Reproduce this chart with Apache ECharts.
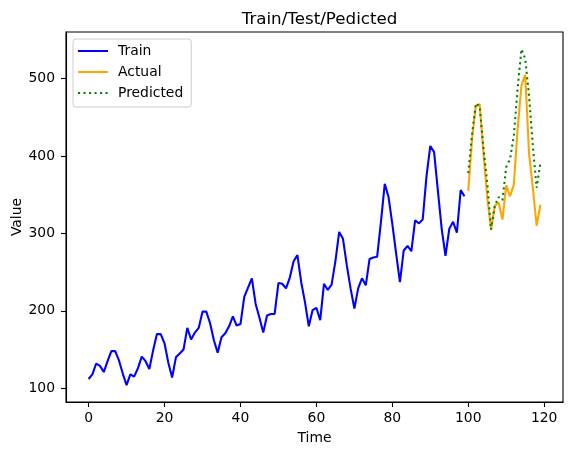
<!DOCTYPE html>
<html>
<head>
<meta charset="utf-8">
<script src="https://cdn.jsdelivr.net/npm/echarts@6/dist/echarts.min.js"></script>
<style>
  html, body { margin: 0; padding: 0; background: #fff; }
  #chart { width: 571px; height: 455px; }
</style>
</head>
<body>
<div id="chart"></div>
<script>
const trainValues = [
  112, 118, 132, 129, 121, 135, 148, 148, 136, 119, 104, 118,
  115, 126, 141, 135, 125, 149, 170, 170, 158, 133, 114, 140,
  145, 150, 178, 163, 172, 178, 199, 199, 184, 162, 146, 166,
  171, 180, 193, 181, 183, 218, 230, 242, 209, 191, 172, 194,
  196, 196, 236, 235, 229, 243, 264, 272, 237, 211, 180, 201,
  204, 188, 235, 227, 234, 264, 302, 293, 259, 229, 203, 229,
  242, 233, 267, 269, 270, 315, 364, 347, 312, 274, 237, 278,
  284, 277, 317, 313, 318, 374, 413, 405, 355, 306, 271, 306,
  315, 301, 356, 348
];
const actualValues = [
  355, 422, 465, 467, 404, 347, 305, 336, 340, 318,
  362, 348, 363, 435, 491, 505, 404, 359, 310, 337
];
const predictedValues = [
  378, 428, 468, 464, 410, 365, 305, 336, 347, 343,
  386, 396, 426, 487, 538, 526, 478, 413, 359, 391
];
const xTicks = [0, 20, 40, 60, 80, 100, 120];
const yTicks = [100, 200, 300, 400, 500];

const testStart = trainValues.length;
const trainData = trainValues.map((v, i) => [i, v]);
const actualData = actualValues.map((v, i) => [testStart + i, v]);
const predictedData = predictedValues.map((v, i) => [testStart + i, v]);

const FONT = 'DejaVu Sans';
const LW = 2.08; // 1.5pt at 100 dpi

const chart = echarts.init(document.getElementById('chart'), null, { renderer: 'canvas' });

chart.setOption({
  animation: false,
  backgroundColor: '#ffffff',
  title: {
    text: 'Train/Test/Pedicted',
    left: 314.5,
    top: 6,
    textAlign: 'center',
    textStyle: { fontFamily: FONT, fontSize: 16.7, fontWeight: 'normal', color: '#000' }
  },
  legend: {
    orient: 'vertical',
    left: 73,
    top: 39,
    padding: [5, 8, 7, 4],
    itemWidth: 30,
    itemHeight: 14,
    itemGap: 7,
    itemStyle: { opacity: 0 },
    backgroundColor: 'rgba(255,255,255,0.8)',
    borderColor: '#cccccc',
    borderWidth: 1,
    borderRadius: 3,
    textStyle: { fontFamily: FONT, fontSize: 13.9, color: '#000', padding: [0, 0, 0, 5] },
    data: ['Train', 'Actual', 'Predicted']
  },
  grid: {
    left: 66,
    right: 8,
    top: 32,
    bottom: 53,
    show: true,
    borderColor: '#000',
    borderWidth: 1.1,
    containLabel: false,
    outerBoundsMode: 'none'
  },
  xAxis: {
    type: 'value',
    min: -5.95,
    max: 124.95,
    name: 'Time',
    nameLocation: 'middle',
    nameGap: 29,
    nameMoveOverlap: false,
    nameTextStyle: { fontFamily: FONT, fontSize: 13.9, color: '#000' },
    axisLine: { show: true, onZero: false, lineStyle: { color: '#000', width: 1.1 } },
    axisTick: { show: true, inside: false, length: 5, lineStyle: { color: '#000', width: 1.1 }, customValues: xTicks },
    axisLabel: { fontFamily: FONT, fontSize: 13.9, color: '#000', margin: 9, customValues: xTicks },
    splitLine: { show: false }
  },
  yAxis: {
    type: 'value',
    min: 82.3,
    max: 560.2,
    name: 'Value',
    nameLocation: 'middle',
    nameGap: 42,
    nameRotate: 90,
    nameMoveOverlap: false,
    nameTextStyle: { fontFamily: FONT, fontSize: 13.9, color: '#000' },
    axisLine: { show: true, onZero: false, lineStyle: { color: '#000', width: 1.1 } },
    axisTick: { show: true, inside: false, length: 5, lineStyle: { color: '#000', width: 1.1 }, customValues: yTicks },
    axisLabel: { fontFamily: FONT, fontSize: 13.9, color: '#000', margin: 11, customValues: yTicks },
    splitLine: { show: false }
  },
  series: [
    {
      name: 'Train',
      type: 'line',
      data: trainData,
      symbol: 'none',
      lineStyle: { color: '#0000ff', width: LW },
      itemStyle: { color: '#0000ff' }
    },
    {
      name: 'Actual',
      type: 'line',
      data: actualData,
      symbol: 'none',
      lineStyle: { color: '#ffa500', width: LW },
      itemStyle: { color: '#ffa500' }
    },
    {
      name: 'Predicted',
      type: 'line',
      data: predictedData,
      symbol: 'none',
      lineStyle: { color: '#008000', width: LW, type: [2.08, 3.43] },
      itemStyle: { color: '#008000' }
    }
  ]
});
</script>
</body>
</html>
